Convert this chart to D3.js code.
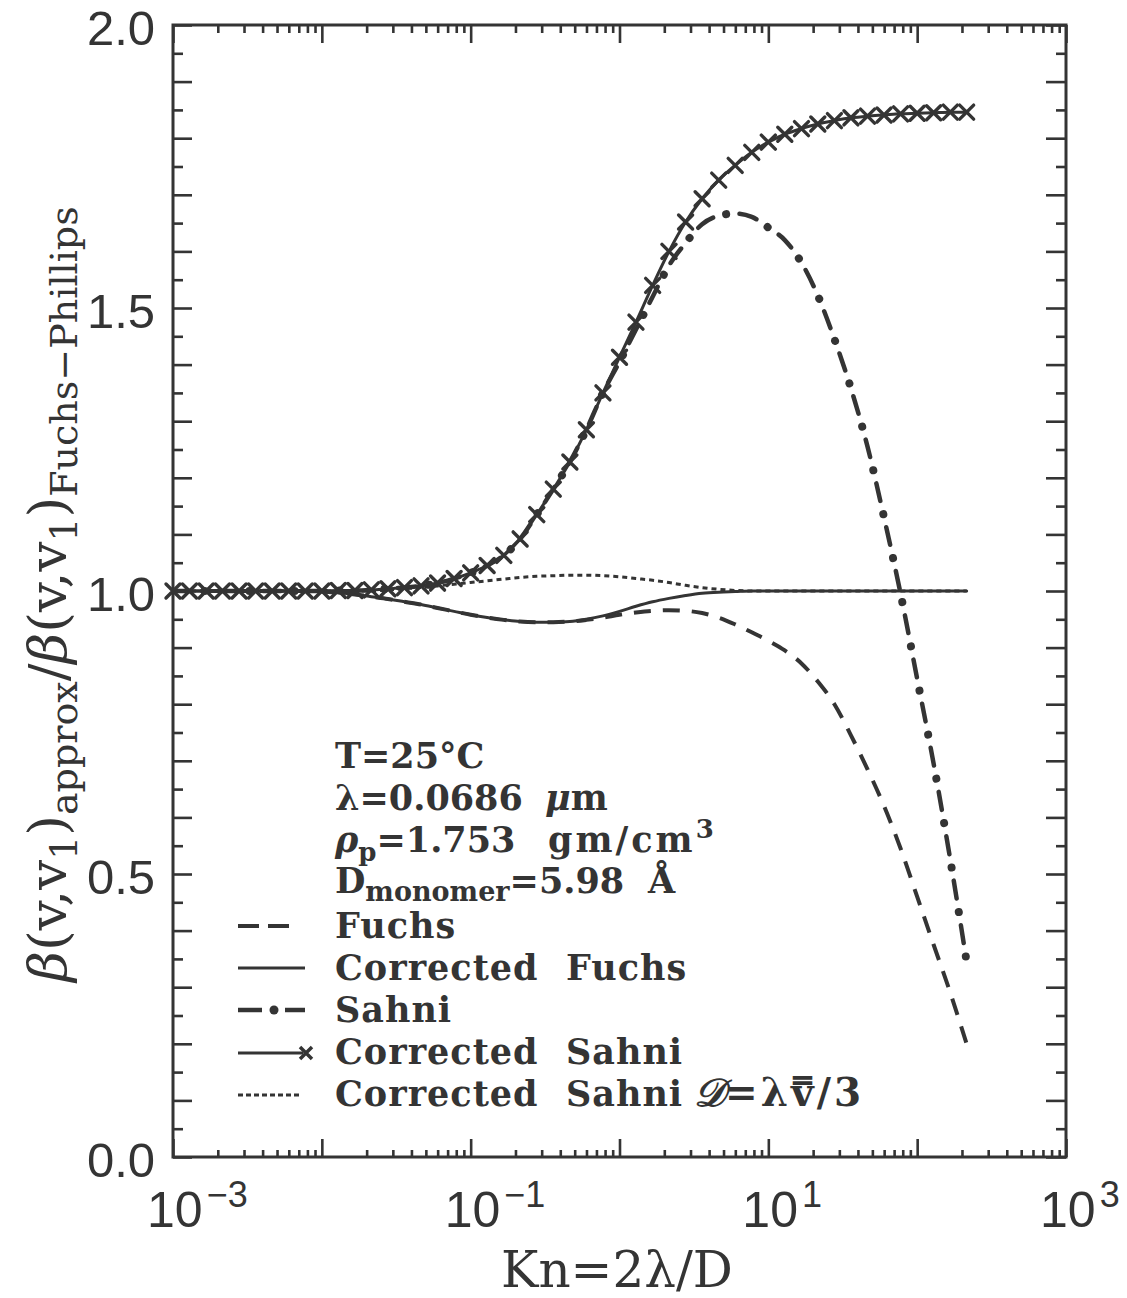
<!DOCTYPE html>
<html><head><meta charset="utf-8">
<script src="https://cdn.jsdelivr.net/npm/d3@7"></script>
<style>body{margin:0;background:#fff}text{white-space:pre}</style>
</head><body>
<svg id="c" width="1127" height="1298"></svg>
<script>
const kn = [0.001,0.00129,0.00167,0.00215,0.00278,0.00359,0.00464,0.00599,0.00774,
  0.01,0.0129,0.0167,0.0215,0.0278,0.0359,0.0464,0.0599,0.0774,
  0.1,0.129,0.167,0.215,0.278,0.359,0.464,0.599,0.774,
  1,1.29,1.67,2.15,2.78,3.59,4.64,5.99,7.74,
  10,12.9,16.7,21.5,27.8,35.9,46.4,59.9,77.4,
  100,129,167,215];

const fuchs = [1,1,1,1,1,1,1,1,1,
  0.999,0.997,0.994,0.990,0.986,0.981,0.976,0.970,0.964,
  0.958,0.953,0.949,0.946,0.945,0.945,0.946,0.949,0.953,
  0.958,0.962,0.965,0.966,0.965,0.961,0.953,0.941,0.927,
  0.912,0.895,0.872,0.840,0.800,0.745,0.685,0.620,0.545,
  0.460,0.375,0.290,0.200];

const correctedFuchs = [1,1,1,1,1,1,1,1,1,
  0.999,0.997,0.994,0.990,0.986,0.981,0.976,0.970,0.964,
  0.958,0.953,0.949,0.946,0.945,0.945,0.946,0.950,0.956,
  0.964,0.973,0.981,0.987,0.992,0.996,0.998,0.999,1,
  1,1,1,1,1,1,1,1,1,
  1,1,1,1];

const sahni = [1,1,1,1,1,1,1,1,1,
  1,1.001,1.001,1.002,1.004,1.006,1.009,1.014,1.022,
  1.032,1.045,1.063,1.092,1.135,1.18,1.228,1.285,1.35,
  1.405,1.462,1.52,1.575,1.615,1.648,1.663,1.667,1.661,
  1.642,1.62,1.58,1.522,1.445,1.358,1.255,1.13,0.995,
  0.845,0.695,0.525,0.345];

const correctedSahni = [1,1,1,1,1,1,1,1,1,
  1,1.001,1.001,1.002,1.004,1.006,1.009,1.014,1.022,
  1.032,1.045,1.063,1.092,1.135,1.18,1.228,1.285,1.35,
  1.413,1.475,1.54,1.60,1.652,1.693,1.726,1.752,1.775,
  1.793,1.807,1.817,1.825,1.831,1.836,1.839,1.841,1.843,
  1.844,1.845,1.846,1.846];

const correctedSahniD = [1,1,1,1,1,1,1,1,1,
  1,1,1,1,1.002,1.004,1.006,1.009,1.012,
  1.015,1.018,1.021,1.024,1.026,1.027,1.028,1.028,1.027,
  1.025,1.022,1.019,1.015,1.010,1.006,1.003,1.001,1,
  1,1,1,1,1,1,1,1,1,
  1,1,1,1];

const xLabelValues = [1e-3, 1e-1, 1e1, 1e3];
const xLabelExps = ["\u22123", "\u22121", "1", "3"];
const yLabelValues = [0, 0.5, 1, 1.5, 2];
const yLabelTexts = ["0.0", "0.5", "1.0", "1.5", "2.0"];
const legendWords = [["Fuchs"], ["Corrected", "Fuchs"], ["Sahni"], ["Corrected", "Sahni"], ["Corrected", "Sahni"]];

const INK = "#343434";
const svg = d3.select("#c");
const L = 173, R = 1066, T = 25, B = 1157;
const x = d3.scaleLog().domain([1e-3, 1e3]).range([L, R]);
const y = d3.scaleLinear().domain([0, 2]).range([B, T]);

// ticks
const decades = d3.range(-3, 4).map(e => Math.pow(10, e));
const minors = [];
d3.range(-3, 3).forEach(e => { for (let k = 2; k <= 9; k++) minors.push(k * Math.pow(10, e)); });
const yAll = d3.range(0, 41).map(i => i * 0.05);
const yMinor = yAll.filter((v, i) => i % 2 === 1);
const yMid = yAll.filter((v, i) => i % 2 === 0);

function styleAxis(g) {
  g.select(".domain").remove();
  g.selectAll(".tick line").attr("stroke", INK).attr("stroke-width", 2.6);
  g.selectAll(".tick text").remove();
}
svg.append("g").attr("transform", `translate(0,${B})`).call(d3.axisTop(x).tickValues(decades).tickSize(18).tickFormat("")).call(styleAxis);
svg.append("g").attr("transform", `translate(0,${B})`).call(d3.axisTop(x).tickValues(minors).tickSize(7).tickFormat("")).call(styleAxis);
svg.append("g").attr("transform", `translate(0,${T})`).call(d3.axisBottom(x).tickValues(decades).tickSize(18).tickFormat("")).call(styleAxis);
svg.append("g").attr("transform", `translate(0,${T})`).call(d3.axisBottom(x).tickValues(minors).tickSize(8).tickFormat("")).call(styleAxis);
svg.append("g").attr("transform", `translate(${L},0)`).call(d3.axisRight(y).tickValues(yMinor).tickSize(10).tickFormat("")).call(styleAxis);
svg.append("g").attr("transform", `translate(${L},0)`).call(d3.axisRight(y).tickValues(yMid).tickSize(19).tickFormat("")).call(styleAxis);
svg.append("g").attr("transform", `translate(${R},0)`).call(d3.axisLeft(y).tickValues(yMinor).tickSize(10).tickFormat("")).call(styleAxis);
svg.append("g").attr("transform", `translate(${R},0)`).call(d3.axisLeft(y).tickValues(yMid).tickSize(20).tickFormat("")).call(styleAxis);

// frame
svg.append("rect").attr("x", L).attr("y", T).attr("width", R - L).attr("height", B - T)
  .attr("fill", "none").attr("stroke", INK).attr("stroke-width", 3);

// tick labels
const sans = "'Liberation Sans', Arial, sans-serif";
yLabelValues.forEach((v, i) => {
  svg.append("text").attr("x", 155).attr("y", y(v) + 20).attr("text-anchor", "end")
    .attr("font-family", sans).attr("font-size", 49).attr("fill", INK).text(yLabelTexts[i]);
});
xLabelValues.forEach((v, i) => {
  const t = svg.append("text").attr("x", x(v) - 26).attr("y", 1227)
    .attr("font-family", sans).attr("font-size", 50).attr("fill", INK);
  t.append("tspan").text("10");
  t.append("tspan").attr("dx", 4).attr("dy", -20).attr("font-size", 36).text(xLabelExps[i]);
});

// axis titles
const serif = "'DejaVu Serif', serif";
svg.append("text").attr("x", 617).attr("y", 1287).attr("text-anchor", "middle")
  .attr("font-family", serif).attr("font-size", 50).attr("fill", INK).text("Kn=2\u03bb/D");

const yt = svg.append("text").attr("transform", "translate(66,594) rotate(-90)")
  .attr("text-anchor", "middle").attr("font-family", serif).attr("font-size", 53).attr("fill", INK);
const titleParts = [["\u03b2", 0], ["(v,v", 0], ["1", 1], [")", 0], ["approx", 1],
  ["/", 0], ["\u03b2", 0], ["(v,v", 0], ["1", 1], [")", 0], ["Fuchs\u2212Phillips", 1]];
let low = false;
titleParts.forEach(([s, sub]) => {
  const ts = yt.append("tspan").text(s);
  if (s === "\u03b2") ts.attr("font-style", "italic");
  if (sub) { ts.attr("font-size", 38); if (!low) { ts.attr("dy", 11); low = true; } }
  else if (low) { ts.attr("dy", -11); low = false; }
});

// data lines
const line = d3.line().x(d => x(d[0])).y(d => y(d[1])).curve(d3.curveMonotoneX);
const pts = arr => kn.map((k, i) => [k, arr[i]]);
const plot = svg.append("g").attr("fill", "none").attr("stroke", INK).attr("stroke-linecap", "round");

plot.append("path").attr("d", line(pts(correctedFuchs))).attr("stroke-width", 3);
plot.append("path").attr("d", line(pts(fuchs))).attr("stroke-width", 4).attr("stroke-dasharray", "17,12").attr("stroke-linecap", "butt");
plot.append("path").attr("d", line(pts(correctedSahniD))).attr("stroke-width", 3).attr("stroke-dasharray", "5,4").attr("stroke-linecap", "butt");
plot.append("path").attr("d", line(pts(sahni))).attr("stroke-width", 4.5).attr("stroke-dasharray", "18,27");
plot.append("path").attr("d", line(pts(sahni))).attr("stroke-width", 8).attr("stroke-dasharray", "0.1,44.9").attr("stroke-dashoffset", -31.5);
plot.append("path").attr("d", line(pts(correctedSahni))).attr("stroke-width", 3);
const cross = "M-7,-7L7,7M-7,7L7,-7";
plot.selectAll("path.x").data(pts(correctedSahni)).join("path").attr("class", "x")
  .attr("transform", d => `translate(${x(d[0])},${y(d[1])})`).attr("d", cross).attr("stroke-width", 3.4);

// parameter text
const lt = svg.append("g").attr("font-family", serif).attr("font-weight", "bold").attr("fill", INK).attr("font-size", 35);
lt.append("text").attr("x", 335).attr("y", 768).text("T=25\u00b0C");
const l2 = lt.append("text").attr("x", 335).attr("y", 810);
l2.append("tspan").text("\u03bb=0.0686");
l2.append("tspan").attr("x", 545).attr("font-style", "italic").text("\u03bc");
l2.append("tspan").text("m");
const l3 = lt.append("text").attr("x", 335).attr("y", 852);
l3.append("tspan").attr("font-style", "italic").text("\u03c1");
l3.append("tspan").attr("dy", 9).attr("font-size", 26).text("p");
l3.append("tspan").attr("dy", -9).text("=1.753");
l3.append("tspan").attr("x", 548).attr("letter-spacing", 3).text("gm/cm");
l3.append("tspan").attr("dy", -14).attr("font-size", 26).text("3");
const l4 = lt.append("text").attr("x", 335).attr("y", 893);
l4.append("tspan").text("D");
l4.append("tspan").attr("dy", 8).attr("font-size", 27).text("monomer");
l4.append("tspan").attr("dy", -8).text("=5.98");
l4.append("tspan").attr("x", 648).text("\u00c5");

// legend
const legY = [938, 980, 1022, 1064, 1106];
const wordX = [335, 566];
legendWords.forEach((ws, i) => {
  const t = lt.append("text").attr("y", legY[i]);
  ws.forEach((w, j) => t.append("tspan").attr("x", wordX[j]).attr("letter-spacing", 1).text(w));
  if (i === 4) {
    t.append("tspan").attr("x", 694).attr("font-style", "italic").attr("font-size", 39).text("\ud835\udc9f");
    t.append("tspan").attr("font-size", 39).attr("letter-spacing", 3).text("=\u03bbv\u033f/3");
  }
});
const lg = svg.append("g").attr("fill", "none").attr("stroke", INK);
lg.append("path").attr("d", d3.line()([[238, 926], [290, 926]])).attr("stroke-width", 4).attr("stroke-dasharray", "21,9");
lg.append("path").attr("d", d3.line()([[238, 968], [305, 968]])).attr("stroke-width", 3);
lg.append("path").attr("d", d3.line()([[238, 1010], [262, 1010]])).attr("stroke-width", 4.5);
lg.append("path").attr("d", d3.line()([[285, 1010], [305, 1010]])).attr("stroke-width", 4.5);
lg.append("circle").attr("cx", 274).attr("cy", 1010).attr("r", 4.5).attr("fill", INK).attr("stroke", "none");
lg.append("path").attr("d", d3.line()([[238, 1053], [303, 1053]])).attr("stroke-width", 3);
lg.append("path").attr("transform", "translate(306,1053)").attr("d", "M-6,-6L6,6M-6,6L6,-6").attr("stroke-width", 3.5);
lg.append("path").attr("d", d3.line()([[238, 1095], [300, 1095]])).attr("stroke-width", 3).attr("stroke-dasharray", "5,3");
</script>
</body></html>
